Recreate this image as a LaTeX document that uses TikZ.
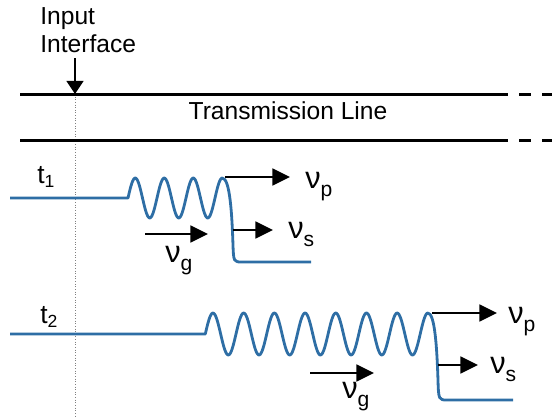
\documentclass[tikz,border=0pt]{standalone}
\usepackage{fontspec}
\setmainfont{Liberation Sans}
\usetikzlibrary{arrows.meta}
\definecolor{wavecol}{HTML}{2E6EA5}
\newcommand{\vel}[1]{{\fontsize{17.5}{17.5}\selectfont ν}\raisebox{-5pt}{\fontsize{12}{12}\selectfont #1}}
\newcommand{\tm}[1]{{\fontsize{15}{15}\selectfont t}\raisebox{-2.5pt}{\fontsize{10}{10}\selectfont #1}}

\begin{document}
\begin{tikzpicture}[x=0.02cm, y=-0.02cm, every node/.style={font=\fontsize{14}{16}\selectfont, inner sep=0pt}, rail/.style={line width=1.7pt}, signal/.style={draw=wavecol, line width=1.6pt, line join=round}, velarrow/.style={line width=1.5pt, -{Triangle[length=10pt,width=9.5pt]}}, lbl/.style={anchor=base west}]
        \useasboundingbox (0,0) rectangle (552,417);
        % input interface
        \node[align=left, anchor=north west] (iface) at (40,7) {Input\\Interface};
        \coordinate (ifarrow) at (75,58);
        \coordinate (iftip) at (75,94);
        \coordinate (ifend) at (75,417);
        \draw[line width=1.5pt, -{Triangle[length=7.5pt,width=9.5pt]}] (ifarrow) -- (iftip);
        \draw[gray, densely dotted, line width=0.5pt] (iftip) -- (ifend);
        % transmission line
        \foreach \y in {94,140} {
          \draw[rail] (20,\y) -- (508,\y);
          \draw[rail] (519,\y) -- (531,\y);
          \draw[rail] (542,\y) -- (552,\y);
        }
        \node (tline) at (288,111) {Transmission Line};
        % time t1
        \node[lbl] (t1) at (37,183) {\tm{1}};
        \draw[signal] (10,198) -- (128,198) -- plot[domain=128:222.25, samples=120] (\x,{198-20*sin(360/29*(\x-128))}) .. controls (230,178) and (232,215) .. (233,245) .. controls (233.5,262) and (234,262) .. (242,262) -- (311,262);
        \coordinate (p1s) at (225,177);
        \coordinate (p1e) at (290,177);
        \coordinate (s1s) at (233,230);
        \coordinate (s1e) at (273,230);
        \coordinate (g1s) at (145,234);
        \coordinate (g1e) at (208,234);
        \node[lbl] (vp1) at (305,188) {\vel{p}};
        \node[lbl] (vs1) at (288,238) {\vel{s}};
        \node[lbl] (vg1) at (165,262) {\vel{g}};
        % time t2
        \node[lbl] (t2) at (40,323) {\tm{2}};
        \draw[signal] (10,334) -- (205.3,334) -- plot[domain=205.3:427.9, samples=240] (\x,{334-21*sin(360/30.7*(\x-205.3))}) .. controls (435,313) and (437,350) .. (438,380) .. controls (438.5,400) and (439,400) .. (447,400) -- (513,400);
        \coordinate (p2s) at (432,313);
        \coordinate (p2e) at (497,313);
        \coordinate (s2s) at (438,365);
        \coordinate (s2e) at (478,365);
        \coordinate (g2s) at (310,373);
        \coordinate (g2e) at (374,373);
        \node[lbl] (vp2) at (508,323) {\vel{p}};
        \node[lbl] (vs2) at (490,373) {\vel{s}};
        \node[lbl] (vg2) at (342,398) {\vel{g}};
        % velocity arrows
        \foreach \a in {p1,s1,g1,p2,s2,g2}
          \draw[velarrow] (\a s) -- (\a e);
      \end{tikzpicture}
\end{document}
